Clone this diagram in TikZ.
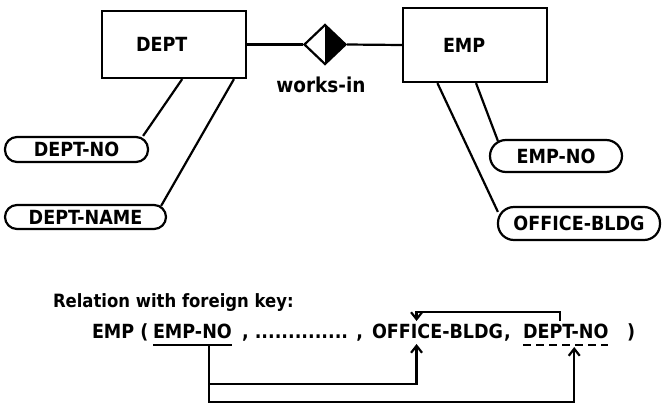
\documentclass[tikz,border=0pt]{standalone}
\usepackage{fontspec}
\setmainfont{DejaVu Sans Condensed}
\usetikzlibrary{positioning, calc, arrows.meta, shapes.geometric}
\tikzset{
    entity/.style={draw, minimum width=144pt, align=left, inner ysep=0pt},
    attrib/.style={draw, rounded corners=#1, inner sep=0pt},
    halfdiamond/.style={draw, diamond, minimum width=42pt, minimum height=40pt, inner sep=0pt,
        path picture={\fill (path picture bounding box.north) -- (path picture bounding box.east)
                             -- (path picture bounding box.south) -- cycle;}},
    word/.style={inner sep=0pt, outer sep=0pt, anchor=base west},
    relname/.style={inner sep=0pt, font=\bfseries\fontsize{20.5}{24}\selectfont}
}

\begin{document}
\begin{tikzpicture}[x=1pt, y=-1pt, line width=2.2pt, >={Straight Barb[length=7pt, width=11pt]},
    font=\bfseries\fontsize{19.5}{23}\selectfont]
  \useasboundingbox (0,0) rectangle (662,405);

  \node(D)[entity, minimum height=67pt, inner xsep=34pt, text width=76pt] at (174,44.5) {DEPT};
  \node(W)[halfdiamond] at (325,44.5) {};
  \node(E)[entity, minimum height=74pt, inner xsep=40pt, text width=64pt] at (475,45) {EMP};
  \node(WL)[relname] at (321,85) {works-in};

  \node(DNO)[attrib=12pt, minimum width=143pt, minimum height=25pt] at (76.5,149.5) {DEPT-NO};
  \node(DNA)[attrib=12pt, minimum width=161pt, minimum height=24pt] at (85.5,217) {DEPT-NAME};
  \node(ENO)[attrib=16pt, minimum width=132pt, minimum height=32pt] at (556,156) {EMP-NO};
  \node(OB)[attrib=16pt, minimum width=162pt, minimum height=33pt] at (579,223.5) {OFFICE-BLDG};

  \draw (D.east) -- (W.west);
  \draw (W.east) -- (E.west);

  \draw ($(D.south west)!0.556!(D.south east)$) -- ($(DNO.north east)+(-6,0)$);
  \draw ($(D.south west)!0.91!(D.south east)$) -- ($(DNA.north east)+(-6,2)$);
  \draw ($(E.south west)!0.243!(E.south east)$) -- ($(OB.north west)+(1,6)$);
  \draw ($(E.south west)!0.507!(E.south east)$) -- ($(ENO.north west)+(9,2)$);

  % relation with foreign key
  \node(RT)[word, font=\bfseries\fontsize{18.3}{22}\selectfont] at (53,307) {Relation with foreign key:};
  \node(R)[word] at (92,338) {EMP (};
  \node(PK)[word] at (153,338) {EMP-NO};
  \node(M)[word] at (242,338) {, .............. ,};
  \node(FK)[word] at (372,338) {OFFICE-BLDG};
  \node(C)[word, right=1pt of FK.base east, anchor=base west] {,};
  \node(FK2)[word] at (523,338) {DEPT-NO};
  \node(CL)[word] at (627,338) {)};

  \draw[line width=1.6pt] ($(PK.base west)+(0,7)$) -- ($(PK.base east)+(0,7)$);
  \draw[line width=1.6pt, dash pattern=on 8pt off 5pt] ($(FK2.base west)+(0,7)$) -- ($(FK2.base east)+(0,7)$);

  \coordinate (P) at ($(PK.base west)!0.71!(PK.base east)+(0,8)$);
  \coordinate (T1) at ($(FK.base west)!0.34!(FK.base east)+(0,6)$);
  \coordinate (T2) at ($(FK2.base west)!0.6!(FK2.base east)+(0,9)$);
  \coordinate (S3) at ($(FK2.base west)!0.43!(FK2.base east)+(0,-17)$);
  \coordinate (T3) at ($(FK.base west)!0.34!(FK.base east)+(0,-17)$);

  \draw[->] (P) -- ++(0,38) -| (T1);
  \draw[->] (P) -- ++(0,56) -| (T2);
  \draw[->] (S3) -- (S3 |- 0,312) -| (T3);
\end{tikzpicture}
\end{document}
